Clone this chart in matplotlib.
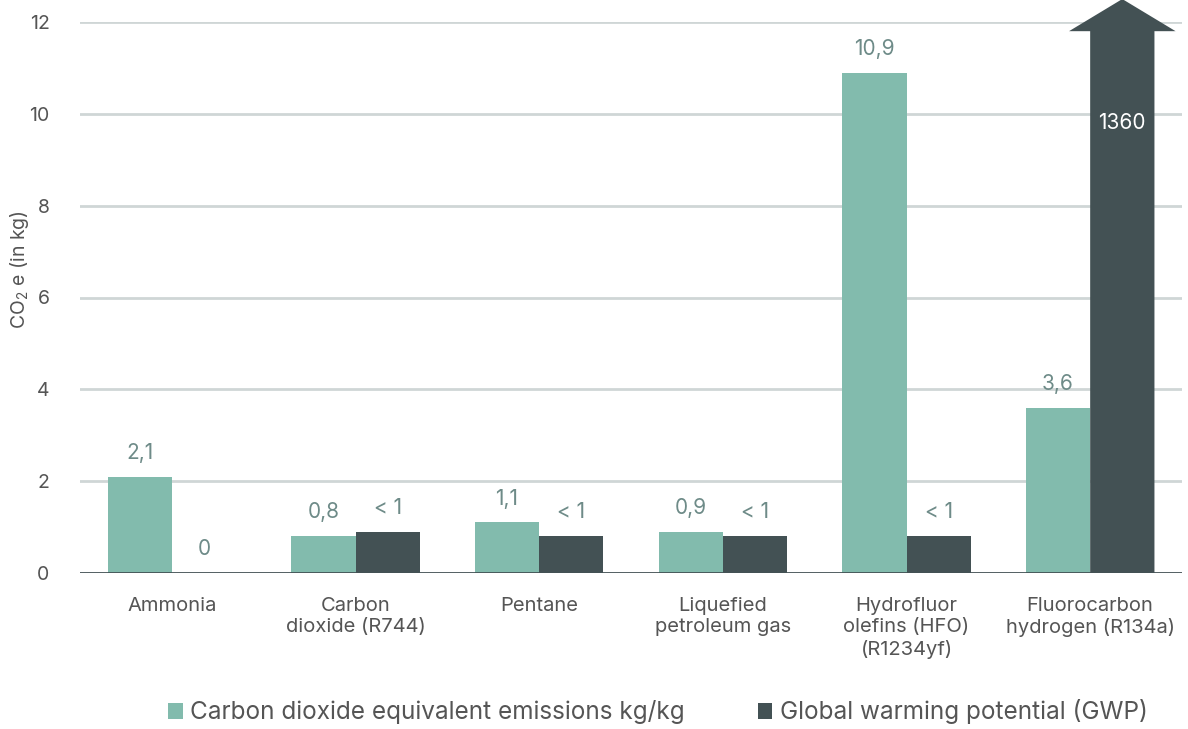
import matplotlib
matplotlib.use("Agg")
import matplotlib.pyplot as plt
from matplotlib.patches import Polygon
import numpy as np

categories = ["Ammonia", "Carbon\ndioxide (R744)", "Pentane", "Liquefied\npetroleum gas",
              "Hydrofluor\nolefins (HFO)\n(R1234yf)", "Fluorocarbon\nhydrogen (R134a)"]
co2e = [2.1, 0.8, 1.1, 0.9, 10.9, 3.6]
co2e_labels = ["2,1", "0,8", "1,1", "0,9", "10,9", "3,6"]
gwp_display = [0, 0.9, 0.8, 0.8, 0.8, 11.8]
gwp_labels = ["0", "< 1", "< 1", "< 1", "< 1", "1360"]
yticks = [0, 2, 4, 6, 8, 10, 12]
series_names = ["Carbon dioxide equivalent emissions kg/kg", "Global warming potential (GWP)"]

TEAL = "#82bbad"
DARK = "#435154"
TXT = "#555555"
LBL = "#6e8b88"
GRID = "#cfd6d6"

plt.rcParams['font.family'] = ['Inter', 'DejaVu Sans']
plt.rcParams['mathtext.fontset'] = 'custom'
plt.rcParams['mathtext.rm'] = 'Inter'

fig = plt.figure(figsize=(11.88, 7.29), dpi=100)
ax = fig.add_axes([80/1188, 1-573/729, (1182-80)/1188, (573-22)/729])

x = np.arange(len(categories))
w = 0.35
ax.set_xlim(-0.5, 5.5)
ax.set_ylim(0, 12)

for yv in yticks[1:]:
    ax.axhline(yv, color=GRID, lw=2, zorder=0)

ax.bar(x - w/2, co2e, w, color=TEAL, zorder=2, label=series_names[0])
ax.bar(x[:-1] + w/2, gwp_display[:-1], w, color=DARK, zorder=2, label=series_names[1])

# arrow for R134a GWP
xc = x[-1] + w/2
shaft_top = gwp_display[-1]
head_half = 0.29
tip = 12.5
arrow = Polygon([[xc - w/2, 0], [xc - w/2, shaft_top], [xc - head_half, shaft_top],
                 [xc, tip], [xc + head_half, shaft_top], [xc + w/2, shaft_top],
                 [xc + w/2, 0]], closed=True, facecolor=DARK, edgecolor='none',
                zorder=3, clip_on=False)
ax.add_patch(arrow)

for i in range(len(categories)):
    ax.text(x[i] - w/2, co2e[i] + 0.3, co2e_labels[i], ha='center', va='bottom',
            fontsize=15, color=LBL)
for i in range(len(categories) - 1):
    ax.text(x[i] + w/2, gwp_display[i] + 0.3, gwp_labels[i], ha='center', va='bottom',
            fontsize=15, color=LBL)
ax.text(xc, 9.8, gwp_labels[-1], ha='center', va='center', fontsize=15, color='white', zorder=4)

ax.axhline(0, color=DARK, lw=2, zorder=5)

for s in ax.spines.values():
    s.set_visible(False)
ax.set_yticks(yticks)
ax.set_yticklabels([str(v) for v in yticks], fontsize=14, color=TXT)
ax.tick_params(axis='y', length=0, pad=22)
ax.set_xticks(x)
ax.set_xticklabels(categories, fontsize=14.5, color=TXT, linespacing=1.25)
ax.tick_params(axis='x', length=0, pad=17)

fig.text(20/1188, 1-270/729, "CO$_2$ e (in kg)", rotation=90, ha='center', va='center',
         fontsize=14, color=TXT)

leg = fig.legend(handles=ax.containers[:2], labels=series_names, loc='center',
                 bbox_to_anchor=(658/1188, 1-712/729), ncol=2, frameon=False,
                 fontsize=17.5, handlelength=0.6, handleheight=0.6, handletextpad=0.3,
                 columnspacing=3.0, labelcolor=TXT)

fig.savefig("out.png", dpi=100)
